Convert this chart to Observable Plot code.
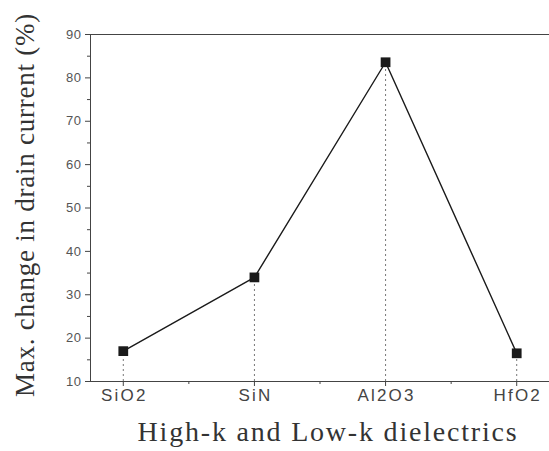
<!DOCTYPE html>
<html><head><meta charset="utf-8">
<script src="https://cdn.jsdelivr.net/npm/d3@7"></script>
<script src="https://cdn.jsdelivr.net/npm/@observablehq/plot@0.6"></script>
<style>body{margin:0;background:#fff}</style>
</head><body><div id="chart"></div>
<script>
const categories = ["SiO2", "SiN", "Al2O3", "HfO2"];
const values = [17, 34, 83.6, 16.5];
const yTicks = [10, 20, 30, 40, 50, 60, 70, 80, 90];
const yMinor = [15, 25, 35, 45, 55, 65, 75, 85];
const xMinor = [1.5, 2.5, 3.5];
const yTitle = "Max. change in drain current (%)";
const xTitle = "High-k and Low-k dielectrics";

const data = categories.map((c, i) => ({pos: i + 1, name: c, value: values[i]}));

const chart = Plot.plot({
  width: 549, height: 451,
  marginLeft: 90, marginTop: 34, marginBottom: 70, marginRight: 0,
  style: {background: "#fff"},
  x: {type: "linear", domain: [0.75, 4.25], axis: null},
  y: {domain: [10, 90], axis: null},
  marks: [
    Plot.ruleX(data, {x: "pos", y1: 10, y2: "value", stroke: "#777", strokeDasharray: "2,3", strokeWidth: 1}),
    Plot.line(data, {x: "pos", y: "value", stroke: "#1a1a1a", strokeWidth: 1.4}),
    Plot.dot(data, {x: "pos", y: "value", symbol: "square", r: 5.5, fill: "#1a1a1a", stroke: "none"}),
    Plot.ruleY([90], {stroke: "#444"}),
    Plot.ruleY([10], {stroke: "#444"}),
    Plot.ruleX([0.75], {stroke: "#444"}),
    Plot.axisY({ticks: yTicks, tickSize: 5, tickFormat: () => "", label: null, stroke: "#444"}),
    Plot.axisY({ticks: yMinor, tickSize: 3, tickFormat: () => "", label: null, stroke: "#444"}),
    Plot.text(yTicks, {x: 0.75, y: d => d, dx: -9, textAnchor: "end", text: d => String(d), fontSize: 13, fontFamily: "Liberation Sans", fill: "#555"}),
    Plot.axisX({ticks: [1, 2, 3, 4], tickSize: 5, tickFormat: () => "", label: null, stroke: "#444"}),
    Plot.axisX({ticks: xMinor, tickSize: 3, tickFormat: () => "", label: null, stroke: "#444"}),
    Plot.text(categories, {x: (d, i) => i + 1, y: 10, dx: 1, dy: 7, text: d => d, fontSize: 17, fontFamily: "Liberation Sans", fill: "#444", lineAnchor: "top"}),
    Plot.text([yTitle], {frameAnchor: "left", dx: -65, dy: -3, rotate: -90, textAnchor: "middle", fontSize: 27, fontFamily: "Liberation Serif", fill: "#333"}),
    Plot.text([xTitle], {frameAnchor: "bottom", dx: 8, dy: 59, fontSize: 28, fontFamily: "Liberation Serif", fill: "#333"})
  ]
});
// letter spacing to mimic the stretched type of the scanned original
chart.querySelectorAll("text").forEach(t => {
  const s = t.textContent;
  if (s === xTitle) t.setAttribute("letter-spacing", "1.8px");
  else if (s === yTitle) t.setAttribute("letter-spacing", "0.75px");
  else if (categories.includes(s)) t.setAttribute("letter-spacing", "2.2px");
  else t.setAttribute("letter-spacing", "0.5px");
});
document.getElementById("chart").appendChild(chart);
</script>
</body></html>
